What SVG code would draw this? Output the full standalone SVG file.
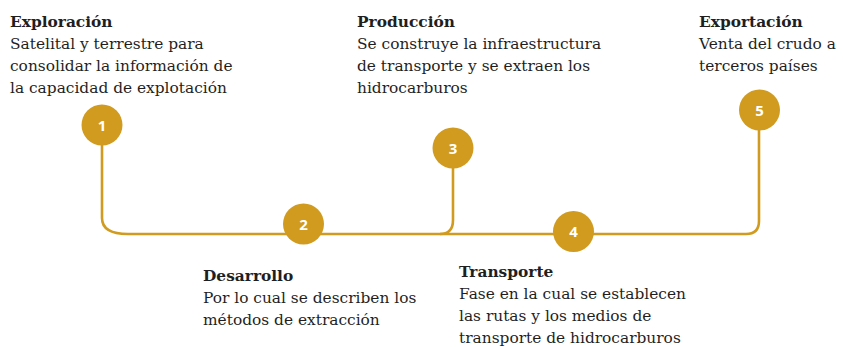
<svg xmlns="http://www.w3.org/2000/svg" width="843" height="347" viewBox="0 0 843 347">
<style>
.t{font-family:"DejaVu Serif","Liberation Serif",serif;font-size:15.4px;fill:#1f1f1f}
.h{font-weight:bold}
.n{font-family:"Open Sans","DejaVu Sans",sans-serif;font-size:15px;font-weight:bold;fill:#fff;text-anchor:middle}
.c{fill:#D09B1F}
.ln{fill:none;stroke:#D09B1F;stroke-width:2.6}
</style>
<rect width="843" height="347" fill="#fff"/>
<g id="connectors">
<path class="ln" d="M102,140 V218 Q102,234 128,234 H440 Q453,234 453,220 V160"/>
<path class="ln" d="M440,234 H746 Q759,234 759,221 V125"/>
</g>
<g id="node1">
<circle class="c" cx="102" cy="125" r="20.5"/>
<text class="n" x="102" y="130.5">1</text>
<text class="t" x="10" y="26.5"><tspan class="h">Exploración</tspan><tspan x="10" dy="22">Satelital y terrestre para</tspan><tspan x="10" dy="22">consolidar la información de</tspan><tspan x="10" dy="22">la capacidad de explotación</tspan></text>
</g>
<g id="node2">
<circle class="c" cx="303.5" cy="224" r="20.5"/>
<text class="n" x="303.5" y="229.5">2</text>
<text class="t" x="203" y="280.5"><tspan class="h">Desarrollo</tspan><tspan x="203" dy="22">Por lo cual se describen los</tspan><tspan x="203" dy="22">métodos de extracción</tspan></text>
</g>
<g id="node3">
<circle class="c" cx="453" cy="148" r="20.5"/>
<text class="n" x="453" y="153.5">3</text>
<text class="t" x="357" y="26.5"><tspan class="h">Producción</tspan><tspan x="357" dy="22">Se construye la infraestructura</tspan><tspan x="357" dy="22">de transporte y se extraen los</tspan><tspan x="357" dy="22">hidrocarburos</tspan></text>
</g>
<g id="node4">
<circle class="c" cx="573.5" cy="231.5" r="20.5"/>
<text class="n" x="573.5" y="237">4</text>
<text class="t" x="459" y="277.3"><tspan class="h">Transporte</tspan><tspan x="459" dy="22">Fase en la cual se establecen</tspan><tspan x="459" dy="22">las rutas y los medios de</tspan><tspan x="459" dy="22">transporte de hidrocarburos</tspan></text>
</g>
<g id="node5">
<circle class="c" cx="759.5" cy="110" r="20.5"/>
<text class="n" x="759.5" y="115.5">5</text>
<text class="t" x="699" y="26.5"><tspan class="h">Exportación</tspan><tspan x="699" dy="22">Venta del crudo a</tspan><tspan x="699" dy="22">terceros países</tspan></text>
</g>
</svg>
